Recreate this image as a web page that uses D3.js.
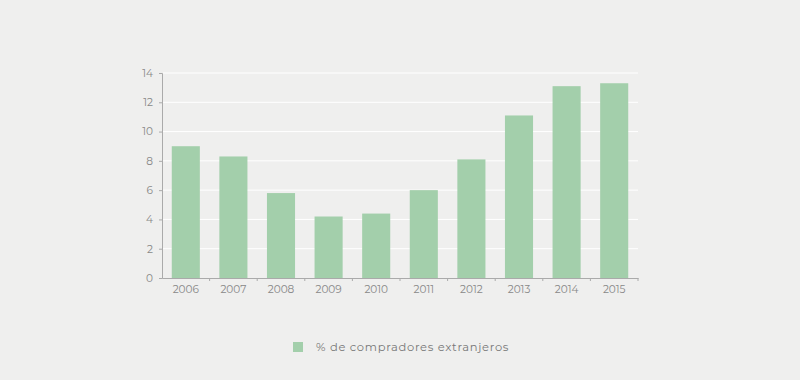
<!DOCTYPE html>
<html><head><meta charset="utf-8">
<script src="https://cdn.jsdelivr.net/npm/d3@7"></script>
<style>body{margin:0;background:#efefee;} svg{display:block;}</style>
</head><body>
<svg id="chart" width="800" height="380"></svg>
<script>
const years = ["2006","2007","2008","2009","2010","2011","2012","2013","2014","2015"];
const values = [9.0, 8.3, 5.8, 4.2, 4.4, 6.0, 8.1, 11.1, 13.1, 13.3];
const yTicks = [0,2,4,6,8,10,12,14];
const seriesName = "% de compradores extranjeros";

const svg = d3.select("#chart");
svg.append("rect").attr("width",800).attr("height",380).attr("fill","#efefee");
const x = d3.scaleBand().domain(years).range([162,638]).paddingInner(0.41).paddingOuter(0.205);
const y = d3.scaleLinear().domain([0,14]).range([278,73]);
const font = "Montserrat, 'Open Sans', 'DejaVu Sans', sans-serif";

// gridlines
svg.append("g").selectAll("line").data(yTicks.filter(d=>d>0)).join("line")
  .attr("x1",163).attr("x2",638).attr("y1",d=>y(d)).attr("y2",d=>y(d))
  .attr("stroke","#ffffff").attr("stroke-width",1);

// bars
svg.append("g").selectAll("rect").data(years).join("rect")
  .attr("x",d=>x(d)).attr("width",x.bandwidth())
  .attr("y",(d,i)=>y(values[i])).attr("height",(d,i)=>y(0)-y(values[i]))
  .attr("fill","#a3cfab");

// y axis
const ya = svg.append("g").attr("transform","translate(162,0)")
  .call(d3.axisLeft(y).tickValues(yTicks).tickSize(3).tickPadding(6));
ya.select(".domain").attr("stroke","#aaaaaa");
ya.selectAll(".tick line").attr("stroke","#aaaaaa");
ya.selectAll("text").attr("fill","#888").style("font-family",font).style("font-size","10.5px");

// x axis
const xa = svg.append("g").attr("transform","translate(0,278)")
  .call(d3.axisBottom(x).tickSize(0).tickPadding(8));
xa.select(".domain").attr("stroke","#aaaaaa");
xa.selectAll("text").attr("fill","#888").style("font-family",font).style("font-size","10.5px");
// small ticks at band boundaries
const bounds = years.slice(1).map(d=>x(d)-x.step()*x.paddingInner()/2);
xa.append("g").selectAll("line").data(bounds.concat([638])).join("line")
  .attr("x1",d=>d).attr("x2",d=>d).attr("y1",0).attr("y2",3).attr("stroke","#aaaaaa");

// legend
const lg = svg.append("g").attr("transform","translate(293,342)");
lg.append("rect").attr("width",10).attr("height",10).attr("fill","#a3cfab");
lg.append("text").attr("x",23).attr("y",9).text(seriesName)
  .attr("fill","#777").style("font-family",font).style("font-size","11.5px").style("letter-spacing","0.7px");
</script>
</body></html>
